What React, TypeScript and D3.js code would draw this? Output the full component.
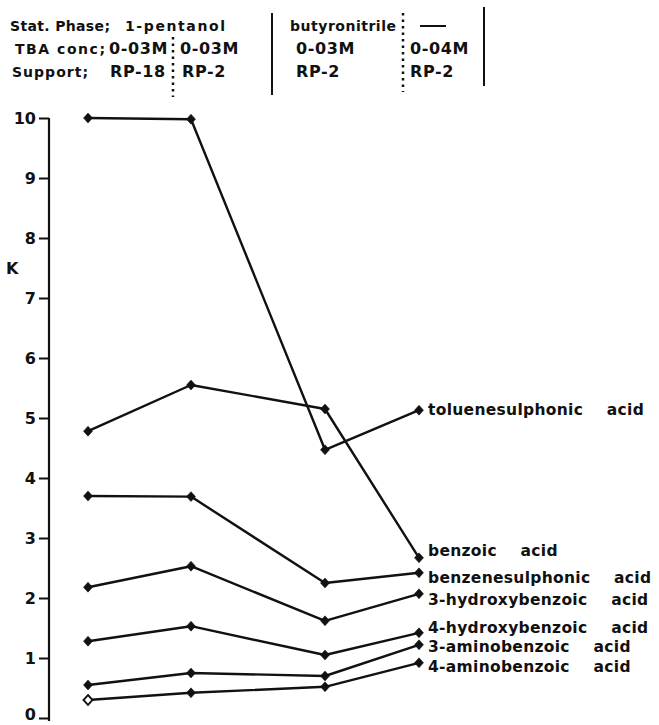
import { useEffect, useRef } from 'react';
import * as d3 from 'd3';

// conditions (columns of the header), left to right
const statPhase = ['1-pentanol', 'butyronitrile', '—'];
const tbaConc = ['0-03M', '0-03M', '0-03M', '0-04M'];
const support = ['RP-18', 'RP-2', 'RP-2', 'RP-2'];
const rowLabels = ['Stat. Phase;', 'TBA conc;', 'Support;'];

const yTicks = [0, 1, 2, 3, 4, 5, 6, 7, 8, 9, 10];

// series named by the label at the end of each drawn line
const seriesNames = [
    'toluenesulphonic acid',
    'benzoic acid',
    'benzenesulphonic acid',
    '3-hydroxybenzoic acid',
    '4-hydroxybenzoic acid',
    '3-aminobenzoic acid',
    '4-aminobenzoic acid',
];
const toluenesulphonic = [10, 9.98, 4.47, 5.13];
const benzoic = [4.78, 5.55, 5.15, 2.67];
const benzenesulphonic = [3.7, 3.69, 2.25, 2.42];
const hydroxy3 = [2.18, 2.53, 1.62, 2.07];
const hydroxy4 = [1.28, 1.53, 1.05, 1.42];
const amino3 = [0.55, 0.75, 0.7, 1.22];
const amino4 = [0.3, 0.42, 0.52, 0.92];

const FONT = '"DejaVu Sans", Arial, sans-serif';

export default function App() {
    const svgRef = useRef<SVGSVGElement>(null);

    useEffect(() => {
        const svg = d3.select(svgRef.current);
        svg.selectAll('*').remove();

        const allSeries = [toluenesulphonic, benzoic, benzenesulphonic, hydroxy3, hydroxy4, amino3, amino4];

        // columns are not evenly spaced in the figure
        const x = d3.scaleLinear().domain([0, 1, 2, 3]).range([88, 191, 325, 419]);
        const y = d3.scaleLinear().domain([0, 10]).range([718, 118]);

        // header table
        const head = svg.append('g')
            .style('font-family', FONT)
            .style('font-weight', 'bold')
            .attr('fill', '#111');

        const putWord = (t: string, px: number, py: number, w: number) => {
            head.append('text')
                .attr('x', px)
                .attr('y', py)
                .attr('textLength', w)
                .attr('lengthAdjust', 'spacing')
                .style('font-size', '14px')
                .text(t);
        };
        const putCode = (t: string, px: number, py: number) => {
            head.append('text')
                .attr('x', px)
                .attr('y', py)
                .style('font-size', '16px')
                .style('letter-spacing', '0.6px')
                .text(t);
        };

        const rowY = [31, 54, 77];
        const rowLabelX = [10, 15, 12];
        const rowLabelW = [100, 90, 76];
        rowLabels.forEach((t, i) => putWord(t, rowLabelX[i], rowY[i], rowLabelW[i]));

        const phaseX = [125, 290];
        const phaseW = [100, 106];
        statPhase.forEach((t, i) => {
            if (t === '—') {
                head.append('line')
                    .attr('x1', 420).attr('x2', 446)
                    .attr('y1', 26).attr('y2', 26)
                    .attr('stroke', '#111').attr('stroke-width', 2);
            } else {
                putWord(t, phaseX[i], rowY[0], phaseW[i]);
            }
        });

        const concX = [109, 180, 296, 410];
        tbaConc.forEach((t, i) => putCode(t, concX[i], rowY[1]));

        const suppX = [110, 182, 296, 410];
        support.forEach((t, i) => putCode(t, suppX[i], rowY[2]));

        const dividers = [
            { x: 173, y1: 37, y2: 97, dotted: true },
            { x: 272, y1: 13, y2: 95, dotted: false },
            { x: 403, y1: 13, y2: 92, dotted: true },
            { x: 484, y1: 7, y2: 86, dotted: false },
        ];
        dividers.forEach((d) => {
            head.append('line')
                .attr('x1', d.x).attr('x2', d.x)
                .attr('y1', d.y1).attr('y2', d.y2)
                .attr('stroke', '#111')
                .attr('stroke-width', d.dotted ? 2.5 : 2)
                .attr('stroke-dasharray', d.dotted ? '2.5,4' : null);
        });

        // Y axis
        const axis = svg.append('g')
            .attr('transform', 'translate(49,0)')
            .call(d3.axisLeft(y).tickValues(yTicks).tickSize(10).tickSizeOuter(0).tickPadding(3));
        axis.select('.domain').attr('stroke', '#111').attr('stroke-width', 2.2).attr('d', `M0,${y(10)}V${y(0) + 3}`);
        axis.selectAll('.tick line').attr('stroke', '#111').attr('stroke-width', 2);
        axis.selectAll<SVGTextElement, number>('.tick text')
            .attr('fill', '#111')
            .attr('dy', (d) => (d === 0 ? '0.1em' : '0.32em'))
            .style('font-family', FONT)
            .style('font-weight', 'bold')
            .style('font-size', '16px');

        svg.append('text')
            .attr('x', 6)
            .attr('y', y(7.5) + 6)
            .attr('fill', '#111')
            .style('font-family', FONT)
            .style('font-weight', 'bold')
            .style('font-size', '16px')
            .text('K');

        // lines
        const line = d3.line<number>()
            .x((_, i) => x(i))
            .y((d) => y(d));

        const plot = svg.append('g');
        allSeries.forEach((vals) => {
            plot.append('path')
                .attr('d', line(vals))
                .attr('fill', 'none')
                .attr('stroke', '#111')
                .attr('stroke-width', 2.4)
                .attr('stroke-linejoin', 'round');
        });

        const diamond = d3.symbol().type(d3.symbolDiamond2).size(52);
        allSeries.forEach((vals, si) => {
            vals.forEach((v, i) => {
                const open = si === allSeries.length - 1 && i === 0;
                plot.append('path')
                    .attr('d', diamond())
                    .attr('transform', `translate(${x(i)},${y(v)}) scale(1,1.1)`)
                    .attr('fill', open ? '#fff' : '#111')
                    .attr('stroke', '#111')
                    .attr('stroke-width', open ? 1.8 : 0.5);
            });
        });

        // end labels, nudged so they do not overlap
        const nudge = [5, -2, 10, 11, 0, 7, 9];
        const labels = svg.append('g')
            .style('font-family', FONT)
            .style('font-weight', 'bold')
            .style('font-size', '15.5px')
            .style('letter-spacing', '0.3px')
            .style('word-spacing', '18px')
            .attr('fill', '#111');
        seriesNames.forEach((name, si) => {
            const vals = allSeries[si];
            labels.append('text')
                .attr('x', x(3) + 9)
                .attr('y', y(vals[3]) + nudge[si])
                .text(name);
        });
    }, []);

    return (
        <svg
            ref={svgRef}
            width={659}
            height={725}
            style={{ position: 'absolute', left: 0, top: 0, background: '#fff' }}
        />
    );
}
